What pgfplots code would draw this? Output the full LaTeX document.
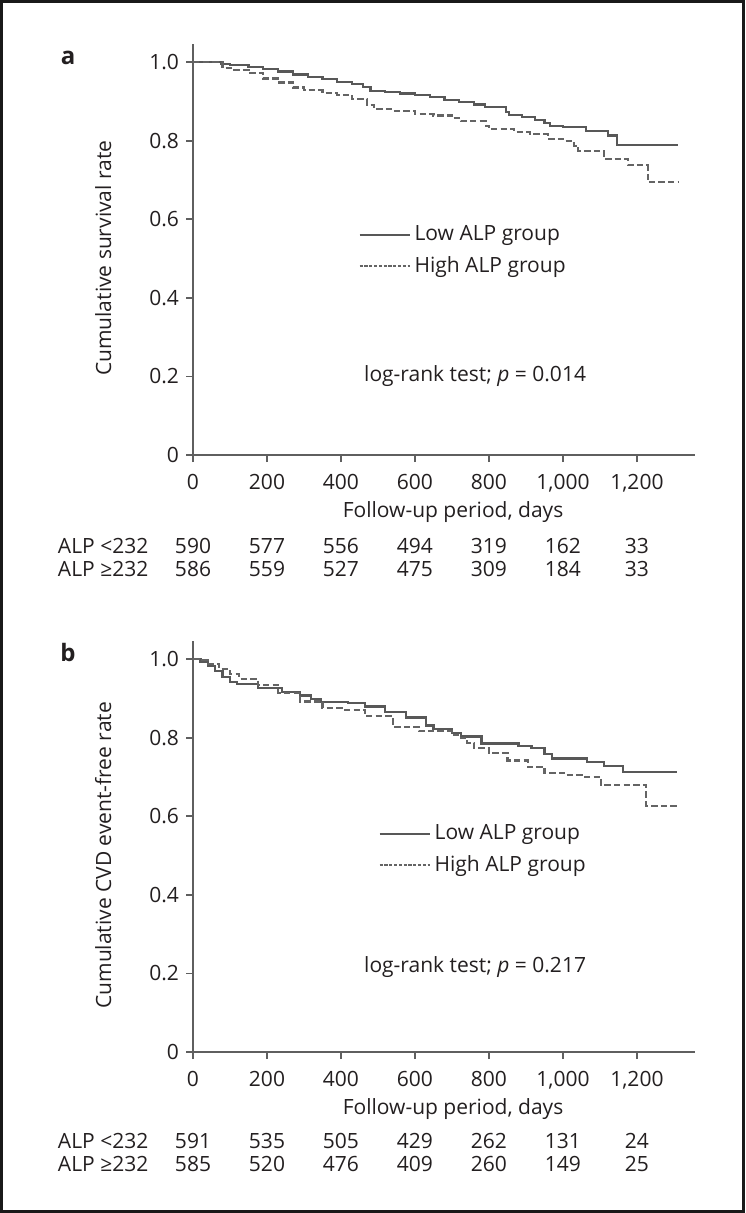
\documentclass[border=0pt]{standalone}
\usepackage{fontspec}
\setmainfont{Open Sans}
\usepackage{pgfplots}
\pgfplotsset{compat=1.18}
\definecolor{inkc}{RGB}{35,31,32}
\definecolor{lowc}{RGB}{88,88,88}
\definecolor{highc}{RGB}{100,100,100}
\definecolor{axc}{RGB}{95,95,95}
\newcommand{\fs}{\fontsize{10.5}{12.5}\selectfont}

\pgfplotsset{kmaxis/.style={
  scale only axis, width=251pt, height=205.34pt,
  xmin=0, xmax=1357, ymin=0, ymax=1.045,
  axis lines=left, axis line style={-, draw=axc, line width=0.9pt},
  tick style={draw=axc, line width=0.9pt},
  tick align=outside, major tick length=3.5pt,
  xtick={0,200,400,600,800,1000,1200},
  xticklabels={0,200,400,600,800,{1,000},{1,200}},
  ytick={0,0.2,0.4,0.6,0.8,1.0},
  yticklabels={0,0.2,0.4,0.6,0.8,1.0},
  tick label style={font=\fs, text=inkc},
  x tick label style={yshift=-2.5pt},
  label style={font=\fs, text=inkc},
  xlabel={Follow-up period, days},
  xlabel style={at={(axis description cs:0.518,-0.138)}, anchor=center},
  ylabel style={at={(axis description cs:-0.179,0.479)}, anchor=center},
  clip=false,
  legend style={draw=none, fill=none, font=\fs, text=inkc, row sep=2.5pt,
    inner sep=0pt, legend cell align=left},
  lowstyle/.style={const plot, no marks, draw=lowc, line width=1.1pt},
  highstyle/.style={const plot, no marks, draw=highc, line width=1.1pt,
    dash pattern=on 3.2pt off 1.6pt},
}}

\begin{document}
\begin{tikzpicture}

% ---- panel a
\begin{axis}[kmaxis, at={(96.5pt,-227.5pt)}, anchor=south west,
  ylabel={Cumulative survival rate},
  legend style={at={(axis description cs:0.329,0.569)}, anchor=north west}]
\addplot[lowstyle, legend image code/.code={\draw[lowc, line width=1pt] (0pt,0pt) -- (25pt,0pt);}]
  coordinates {(0,1.000)(60,1.000)(75,0.995)(100,0.993)(150,0.988)(190,0.982)
  (230,0.976)(270,0.968)(310,0.962)(350,0.956)(390,0.950)(430,0.944)(460,0.936)
  (480,0.927)(520,0.924)(560,0.920)(600,0.916)(640,0.910)(680,0.904)(720,0.898)
  (760,0.892)(790,0.886)(845,0.872)(855,0.865)(890,0.860)(925,0.852)(950,0.845)
  (965,0.838)(1000,0.834)(1063,0.824)(1122,0.813)(1147,0.789)(1310,0.789)};
\addlegendentry{Low ALP group}
\addplot[highstyle, legend image code/.code={\draw[highc, line width=0.9pt, dash pattern=on 1.6pt off 0.8pt] (0pt,0pt) -- (25pt,0pt);}]
  coordinates {(0,1.000)(70,1.000)(80,0.985)(110,0.980)(150,0.972)(190,0.958)
  (230,0.948)(270,0.935)(300,0.928)(350,0.922)(390,0.917)(430,0.905)(470,0.890)
  (490,0.880)(540,0.876)(600,0.868)(650,0.864)(700,0.857)(724,0.850)(791,0.838)
  (800,0.830)(868,0.822)(910,0.816)(960,0.805)(1000,0.800)(1030,0.787)(1041,0.774)
  (1110,0.754)(1176,0.737)(1229,0.694)(1310,0.694)};
\addlegendentry{High ALP group}
\node[font=\fs, text=inkc] at (axis description cs:0.562,0.192) {log-rank test; \textit{p} = 0.014};
\node[font=\bfseries\fontsize{12}{14}\selectfont, text=inkc] at (axis description cs:-0.249,0.968) {a};
\node[font=\fs, text=inkc, anchor=west] at (axis description cs:-0.283,0) [yshift=-45.5pt] {ALP <232};
\node[font=\fs, text=inkc, anchor=west] at (axis description cs:-0.283,0) [yshift=-57pt] {ALP ≥232};
\node[font=\fs, text=inkc] at (axis cs:0,0) [yshift=-45.5pt] {590};
\node[font=\fs, text=inkc] at (axis cs:200,0) [yshift=-45.5pt] {577};
\node[font=\fs, text=inkc] at (axis cs:400,0) [yshift=-45.5pt] {556};
\node[font=\fs, text=inkc] at (axis cs:600,0) [yshift=-45.5pt] {494};
\node[font=\fs, text=inkc] at (axis cs:800,0) [yshift=-45.5pt] {319};
\node[font=\fs, text=inkc] at (axis cs:1000,0) [yshift=-45.5pt] {162};
\node[font=\fs, text=inkc] at (axis cs:1200,0) [yshift=-45.5pt] {33};
\node[font=\fs, text=inkc] at (axis cs:0,0) [yshift=-57pt] {586};
\node[font=\fs, text=inkc] at (axis cs:200,0) [yshift=-57pt] {559};
\node[font=\fs, text=inkc] at (axis cs:400,0) [yshift=-57pt] {527};
\node[font=\fs, text=inkc] at (axis cs:600,0) [yshift=-57pt] {475};
\node[font=\fs, text=inkc] at (axis cs:800,0) [yshift=-57pt] {309};
\node[font=\fs, text=inkc] at (axis cs:1000,0) [yshift=-57pt] {184};
\node[font=\fs, text=inkc] at (axis cs:1200,0) [yshift=-57pt] {33};
\end{axis}

% ---- panel b
\begin{axis}[kmaxis, at={(96.5pt,-526pt)}, anchor=south west,
  ylabel={Cumulative CVD event-free rate},
  legend style={at={(axis description cs:0.369,0.564)}, anchor=north west}]
\addplot[lowstyle, legend image code/.code={\draw[lowc, line width=1pt] (0pt,0pt) -- (25pt,0pt);}]
  coordinates {(0,1.000)(20,0.993)(40,0.983)(60,0.970)(80,0.955)(100,0.942)
  (120,0.937)(175,0.927)(240,0.917)(290,0.907)(320,0.898)(345,0.891)(420,0.889)
  (465,0.879)(520,0.866)(575,0.851)(630,0.831)(650,0.821)(700,0.811)(725,0.803)
  (780,0.785)(880,0.778)(915,0.773)(950,0.758)(970,0.747)(1065,0.737)(1110,0.727)
  (1163,0.712)(1307,0.712)};
\addlegendentry{Low ALP group}
\addplot[highstyle, legend image code/.code={\draw[highc, line width=0.9pt, dash pattern=on 1.6pt off 0.8pt] (0pt,0pt) -- (25pt,0pt);}]
  coordinates {(0,1.000)(15,0.997)(40,0.988)(70,0.975)(100,0.962)(125,0.950)
  (175,0.934)(230,0.914)(290,0.892)(350,0.876)(410,0.871)(465,0.854)(540,0.828)
  (610,0.816)(700,0.806)(720,0.800)(740,0.787)(760,0.773)(800,0.760)(850,0.742)
  (905,0.725)(950,0.710)(1003,0.705)(1060,0.700)(1103,0.679)(1225,0.627)(1312,0.627)};
\addlegendentry{High ALP group}
\node[font=\fs, text=inkc] at (axis description cs:0.562,0.207) {log-rank test; \textit{p} = 0.217};
\node[font=\bfseries\fontsize{12}{14}\selectfont, text=inkc] at (axis description cs:-0.249,0.973) {b};
\node[font=\fs, text=inkc, anchor=west] at (axis description cs:-0.283,0) [yshift=-44.5pt] {ALP <232};
\node[font=\fs, text=inkc, anchor=west] at (axis description cs:-0.283,0) [yshift=-56pt] {ALP ≥232};
\node[font=\fs, text=inkc] at (axis cs:0,0) [yshift=-44.5pt] {591};
\node[font=\fs, text=inkc] at (axis cs:200,0) [yshift=-44.5pt] {535};
\node[font=\fs, text=inkc] at (axis cs:400,0) [yshift=-44.5pt] {505};
\node[font=\fs, text=inkc] at (axis cs:600,0) [yshift=-44.5pt] {429};
\node[font=\fs, text=inkc] at (axis cs:800,0) [yshift=-44.5pt] {262};
\node[font=\fs, text=inkc] at (axis cs:1000,0) [yshift=-44.5pt] {131};
\node[font=\fs, text=inkc] at (axis cs:1200,0) [yshift=-44.5pt] {24};
\node[font=\fs, text=inkc] at (axis cs:0,0) [yshift=-56pt] {585};
\node[font=\fs, text=inkc] at (axis cs:200,0) [yshift=-56pt] {520};
\node[font=\fs, text=inkc] at (axis cs:400,0) [yshift=-56pt] {476};
\node[font=\fs, text=inkc] at (axis cs:600,0) [yshift=-56pt] {409};
\node[font=\fs, text=inkc] at (axis cs:800,0) [yshift=-56pt] {260};
\node[font=\fs, text=inkc] at (axis cs:1000,0) [yshift=-56pt] {149};
\node[font=\fs, text=inkc] at (axis cs:1200,0) [yshift=-56pt] {25};
\end{axis}

% outer frame of the figure
\draw[line width=1.5pt, draw=black!90] (0.75pt,-0.75pt) rectangle (371.75pt,-605.75pt);
\end{tikzpicture}
\end{document}
